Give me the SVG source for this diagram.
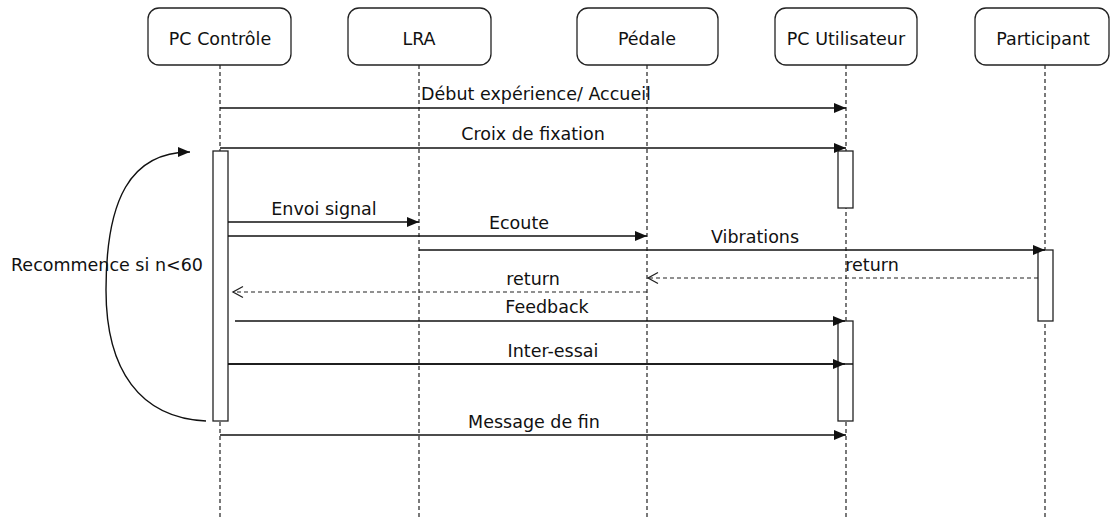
<svg xmlns="http://www.w3.org/2000/svg" width="1110" height="519" viewBox="0 0 1110 519">
<style>
  .box{fill:#fff;stroke:#222;stroke-width:1.3}
  .life{stroke:#222;stroke-width:1.2;stroke-dasharray:4 3;fill:none}
  .act{fill:#fff;stroke:#222;stroke-width:1.3}
  .msg{stroke:#111;stroke-width:1.4;fill:none;marker-end:url(#solid)}
  .ret{stroke:#222;stroke-width:1.2;stroke-dasharray:4 3;fill:none;marker-end:url(#open)}
  text{font-family:"DejaVu Sans","Liberation Sans",sans-serif;font-size:17.5px;fill:#111}
  .c{text-anchor:middle}
</style>
<defs>
  <marker id="solid" markerWidth="13" markerHeight="11" refX="12" refY="5.5" orient="auto" markerUnits="userSpaceOnUse">
    <path d="M0,0.5 L12,5.5 L0,10.5 Z" fill="#111"/>
  </marker>
  <marker id="open" markerWidth="14" markerHeight="14" refX="12" refY="7" orient="auto" markerUnits="userSpaceOnUse">
    <path d="M2,1.5 L12,7 L2,12.5" fill="none" stroke="#222" stroke-width="1.3"/>
  </marker>
</defs>
<rect width="1110" height="519" fill="#fff"/>
<g id="lifelines">
  <line class="life" x1="220" y1="65" x2="220" y2="519"/>
  <line class="life" x1="419" y1="65" x2="419" y2="519"/>
  <line class="life" x1="647" y1="65" x2="647" y2="519"/>
  <line class="life" x1="846" y1="65" x2="846" y2="519"/>
  <line class="life" x1="1045" y1="65" x2="1045" y2="519"/>
</g>
<g id="node-pc-controle">
  <rect class="box" x="148" y="8" width="143" height="57" rx="11"/>
  <text class="c" x="220" y="45">PC Contrôle</text>
</g>
<g id="node-lra">
  <rect class="box" x="348" y="8" width="143" height="57" rx="11"/>
  <text class="c" x="419" y="45">LRA</text>
</g>
<g id="node-pedale">
  <rect class="box" x="577" y="8" width="141" height="57" rx="11"/>
  <text class="c" x="647" y="45">Pédale</text>
</g>
<g id="node-pc-utilisateur">
  <rect class="box" x="775" y="8" width="142" height="57" rx="11"/>
  <text class="c" x="846" y="45">PC Utilisateur</text>
</g>
<g id="node-participant">
  <rect class="box" x="975" y="8" width="134" height="57" rx="11"/>
  <text class="c" x="1043" y="45">Participant</text>
</g>
<g id="activations">
  <rect class="act" x="213" y="151" width="15" height="270"/>
  <rect class="act" x="838" y="151" width="15" height="57"/>
  <rect class="act" x="1038" y="250" width="15" height="71"/>
  <rect class="act" x="838" y="321" width="15" height="100"/>
</g>
<g id="connectors">
  <line class="msg" x1="220" y1="108" x2="846" y2="108"/>
  <line class="msg" x1="220" y1="148" x2="846" y2="148"/>
  <line class="msg" x1="228" y1="222" x2="419" y2="222"/>
  <line class="msg" x1="228" y1="236" x2="647" y2="236"/>
  <line class="msg" x1="419" y1="250" x2="1045" y2="250"/>
  <line class="ret" x1="1038" y1="278" x2="648" y2="278"/>
  <line class="ret" x1="647" y1="292" x2="233" y2="292"/>
  <line class="msg" x1="235" y1="321" x2="845" y2="321"/>
  <line x1="228" y1="364" x2="853" y2="364" stroke="#111" stroke-width="1.4"/>
  <line class="msg" x1="228" y1="364" x2="845" y2="364"/>
  <line class="msg" x1="220" y1="435" x2="846" y2="435"/>
  <path class="msg" d="M206,421 C140,418 106,370 106,290 C106,200 130,152 190,152" stroke-width="1.3"/>
</g>
<g id="labels">
  <text class="c" x="536" y="100">Début expérience/ Accueil</text>
  <text class="c" x="533" y="140">Croix de fixation</text>
  <text class="c" x="324" y="215">Envoi signal</text>
  <text class="c" x="519" y="229">Ecoute</text>
  <text class="c" x="755" y="243">Vibrations</text>
  <text class="c" x="872" y="271">return</text>
  <text class="c" x="533" y="285">return</text>
  <text class="c" x="547" y="313">Feedback</text>
  <text class="c" x="553" y="357">Inter-essai</text>
  <text class="c" x="534" y="428">Message de fin</text>
  <text x="11" y="271">Recommence si n&lt;60</text>
</g>
</svg>
